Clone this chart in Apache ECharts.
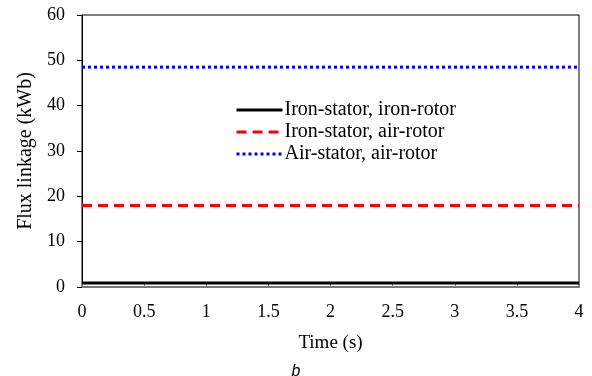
<!DOCTYPE html>
<html><head><meta charset="utf-8">
<script src="https://cdn.jsdelivr.net/npm/echarts@6/dist/echarts.min.js"></script>
<style>html,body{margin:0;padding:0;background:#fff}#c{width:592px;height:376px}</style>
</head><body><div id="c"></div>
<script>
var timeS = [0, 4];
var ironIron = [0.9, 0.9];
var ironAir = [18, 18];
var airAir = [48.5, 48.5];
var seriesNames = ['Iron-stator, iron-rotor', 'Iron-stator, air-rotor', 'Air-stator, air-rotor'];
var xTicks = [0, 0.5, 1, 1.5, 2, 2.5, 3, 3.5, 4];

function pairs(xs, ys) { return xs.map(function (x, i) { return [x, ys[i]]; }); }
var font = 'Liberation Serif, Times New Roman, serif';
var chart = echarts.init(document.getElementById('c'), null, {renderer: 'canvas'});
chart.setOption({
  animation: false,
  backgroundColor: '#fff',
  grid: {left: 82, right: 13, top: 15, bottom: 89, show: true, borderColor: '#000', borderWidth: 1},
  legend: {
    orient: 'vertical', left: 230, top: 95, itemWidth: 46, itemHeight: 14, itemGap: 2,
    itemStyle: {opacity: 0},
    lineStyle: {width: 3},
    textStyle: {fontFamily: font, fontSize: 20, color: '#000', padding: [0,0,0,-3]},
    data: seriesNames
  },
  xAxis: {
    type: 'value', min: 0, max: 4, interval: 0.5,
    name: 'Time (s)', nameLocation: 'middle', nameGap: 47,
    nameTextStyle: {fontFamily: font, fontSize: 19, color: '#000'},
    axisLine: {show: true, lineStyle: {color: '#777', width: 2}},
    axisTick: {inside: true, length: 3, lineStyle: {color: '#888'}},
    axisLabel: {fontFamily: font, fontSize: 18, color: '#000', margin: 16},
    splitLine: {show: false}
  },
  yAxis: {
    type: 'value', min: 0, max: 60, interval: 10,
    name: 'Flux linkage (kWb)', nameLocation: 'middle', nameGap: 41,
    nameTextStyle: {fontFamily: font, fontSize: 20, color: '#000'},
    axisLine: {show: true, lineStyle: {color: '#000', width: 1}},
    axisTick: {inside: false, length: 5, lineStyle: {color: '#000'}},
    axisLabel: {fontFamily: font, fontSize: 18, color: '#000', margin: 17},
    splitLine: {show: false}
  },
  graphic: [{type: 'text', left: 'center', top: 364, style: {text: 'b', font: 'italic 16px Liberation Sans, Arial, sans-serif', fill: '#000'}}],
  series: [
    {name: seriesNames[0], type: 'line', data: pairs(timeS, ironIron), showSymbol: false, symbol: 'none',
      lineStyle: {color: '#000', width: 3, type: 'solid'}, itemStyle: {color: '#000'}},
    {name: seriesNames[1], type: 'line', data: pairs(timeS, ironAir), showSymbol: false, symbol: 'none',
      lineStyle: {color: '#ff0000', width: 3, type: [10, 6]}, itemStyle: {color: '#ff0000'}},
    {name: seriesNames[2], type: 'line', data: pairs(timeS, airAir), showSymbol: false, symbol: 'none',
      lineStyle: {color: '#0000ff', width: 3, type: [3, 3]}, itemStyle: {color: '#0000ff'}}
  ]
});
</script></body></html>
